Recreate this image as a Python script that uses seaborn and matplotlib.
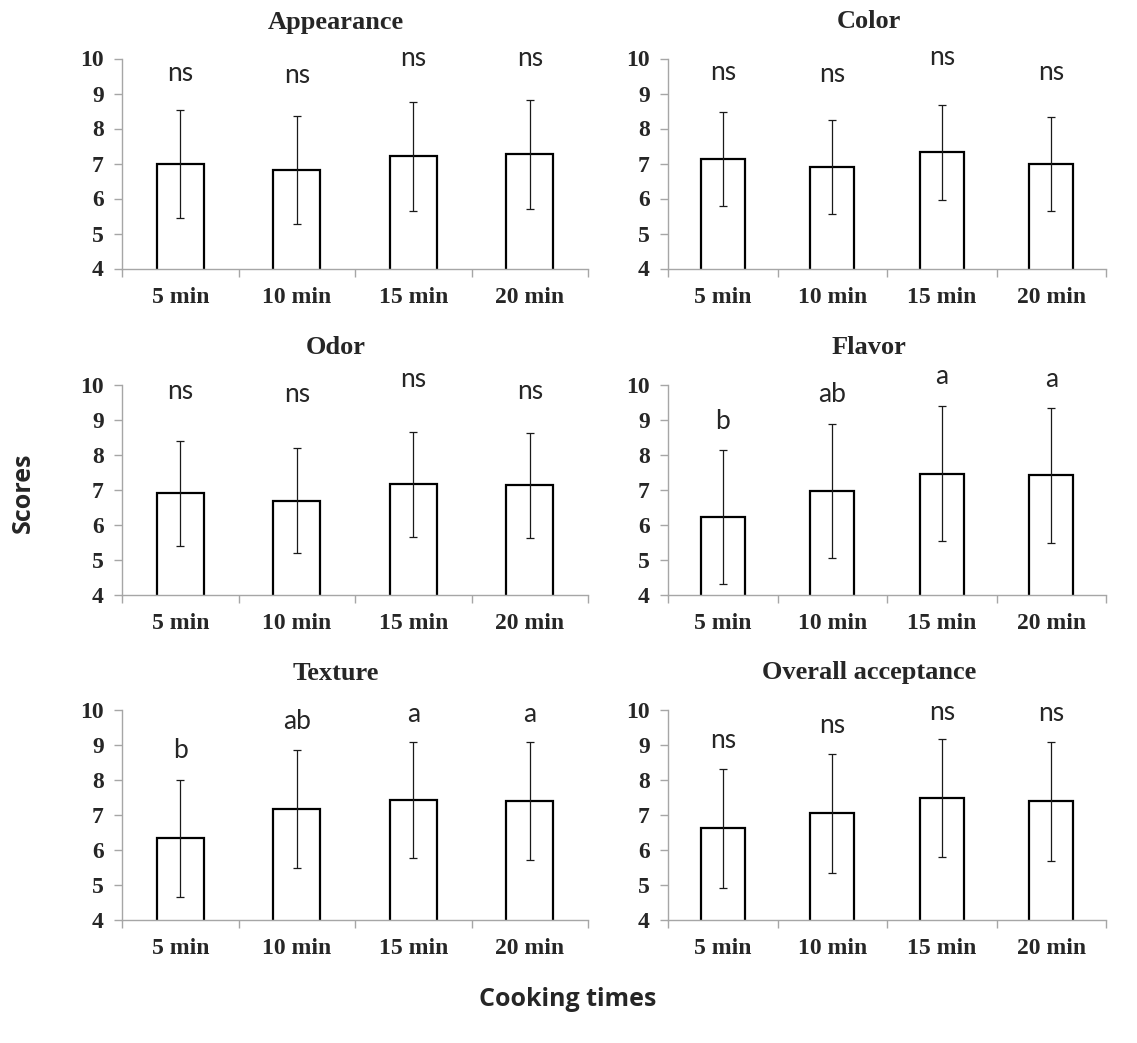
import matplotlib
matplotlib.use("Agg")
import matplotlib.pyplot as plt
import seaborn as sns
import pandas as pd

# ---- data -------------------------------------------------------------
times = ["5 min", "10 min", "15 min", "20 min"]

appearance_mean = [6.98, 6.81, 7.21, 7.26]
appearance_sd = [1.55, 1.55, 1.56, 1.56]
appearance_sig = ["ns", "ns", "ns", "ns"]

color_mean = [7.12, 6.90, 7.32, 6.98]
color_sd = [1.34, 1.35, 1.35, 1.34]
color_sig = ["ns", "ns", "ns", "ns"]

odor_mean = [6.91, 6.70, 7.17, 7.13]
odor_sd = [1.50, 1.50, 1.50, 1.49]
odor_sig = ["ns", "ns", "ns", "ns"]

flavor_mean = [6.22, 6.98, 7.47, 7.42]
flavor_sd = [1.91, 1.91, 1.92, 1.92]
flavor_sig = ["b", "ab", "a", "a"]

texture_mean = [6.33, 7.18, 7.43, 7.40]
texture_sd = [1.68, 1.68, 1.66, 1.68]
texture_sig = ["b", "ab", "a", "a"]

overall_mean = [6.62, 7.05, 7.48, 7.40]
overall_sd = [1.70, 1.70, 1.69, 1.70]
overall_sig = ["ns", "ns", "ns", "ns"]

panels = [
    ("Appearance", appearance_mean, appearance_sd, appearance_sig),
    ("Color", color_mean, color_sd, color_sig),
    ("Odor", odor_mean, odor_sd, odor_sig),
    ("Flavor", flavor_mean, flavor_sd, flavor_sig),
    ("Texture", texture_mean, texture_sd, texture_sig),
    ("Overall acceptance", overall_mean, overall_sd, overall_sig),
]

# heights (in score units) at which the significance letters sit
letter_y = [
    [9.57, 9.52, 10.0, 10.0],
    [9.59, 9.54, 10.02, 9.59],
    [9.81, 9.74, 10.16, 9.81],
    [8.95, 9.74, 10.24, 10.16],
    [8.83, 9.66, 9.88, 9.88],
    [9.13, 9.56, 9.94, 9.89],
]

# ---- style ------------------------------------------------------------
sns.set_theme(style="white")
plt.rcParams["font.family"] = ["Liberation Serif", "DejaVu Serif"]

W, H = 1137, 1043
fig = plt.figure(figsize=(W / 100, H / 100), dpi=100)

axis_grey = "#a6a6a6"

# pixel layout of the six panels: (left, right, top, bottom)
cols = [(122, 588), (668, 1106)]
rows = [(58.5, 268.5), (385, 595), (710, 920)]
title_x = [336, 869]
title_y = [22, 348, 673]

for k, (name, means, sds, sig) in enumerate(panels):
    r, c = divmod(k, 2)
    x0, x1 = cols[c]
    t, b = rows[r]
    ax = fig.add_axes([x0 / W, 1 - b / H, (x1 - x0) / W, (b - t) / H])

    df = pd.DataFrame({"time": times, "score": means})
    sns.barplot(data=df, x="time", y="score", order=times, ax=ax,
                color="white", edgecolor="black", linewidth=1.6,
                width=0.4, errorbar=None, saturation=1)
    ax.errorbar(range(len(times)), means, yerr=sds, fmt="none",
                ecolor="#1a1a1a", elinewidth=0.9, capsize=3.2, capthick=0.9)

    for i, s in enumerate(sig):
        ax.text(i, letter_y[k][i], s, ha="center", va="center",
                fontsize=19, family=["Lato", "DejaVu Sans"], clip_on=False)

    ax.set_ylim(4, 10)
    ax.set_xlim(-0.5, 3.5)
    ax.set_yticks(range(4, 11))
    ax.set_xlabel("")
    ax.set_ylabel("")

    for side in ("top", "right"):
        ax.spines[side].set_visible(False)
    for side in ("left", "bottom"):
        ax.spines[side].set_color(axis_grey)
        ax.spines[side].set_linewidth(1.0)

    ax.set_xticks(range(len(times)))
    ax.set_xticklabels(times)
    ax.set_xticks([i - 0.5 for i in range(len(times) + 1)], minor=True)
    ax.tick_params(axis="x", which="major", length=0, pad=13,
                   labelsize=17)
    ax.tick_params(axis="x", which="minor", length=6, width=1,
                   color=axis_grey, direction="out", bottom=True)
    ax.tick_params(axis="y", length=6, width=1, color=axis_grey,
                   direction="out", left=True, pad=7, labelsize=17)
    for lab in ax.get_xticklabels() + ax.get_yticklabels():
        lab.set_fontweight("bold")

    fig.text(title_x[c] / W, 1 - title_y[r] / H, name, ha="center",
             va="center", fontsize=19, fontweight="bold")

fig.text(23 / W, 1 - 493 / H, "Scores", rotation=90, ha="center",
         va="center", fontsize=18, fontweight="bold",
         family=["Open Sans", "DejaVu Sans"])
fig.text(568 / W, 1 - 1000 / H, "Cooking times", ha="center", va="center",
         fontsize=18, fontweight="bold", family=["Open Sans", "DejaVu Sans"])

fig.savefig("out.png", dpi=100, facecolor="white")
